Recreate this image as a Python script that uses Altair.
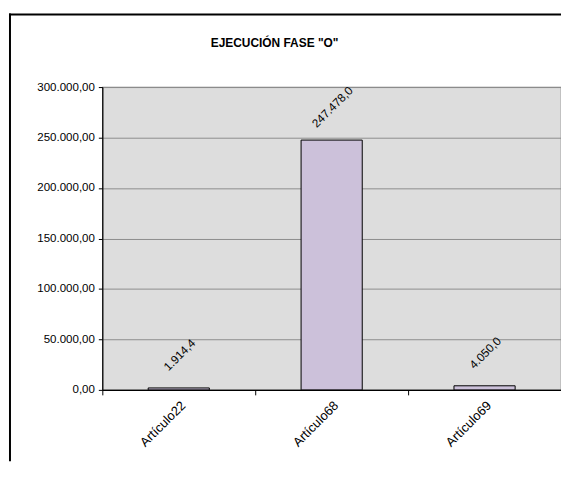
import altair as alt
import pandas as pd

categories = ["Artículo22", "Artículo68", "Artículo69"]
values = [1914.4, 247478.0, 4050.0]
y_ticks = [0, 50000, 100000, 150000, 200000, 250000, 300000]
title_text = 'EJECUCIÓN FASE "O"'

df = pd.DataFrame({"cat": categories, "val": values})

FONT = "Liberation Sans"
W, H = 462, 305
STEP = W / 3
PB = 72


def es_fmt(expr, spec):
    # swap separators: "247,478.0" -> "247.478,0"
    s = f"format({expr}, '{spec}')"
    return f"replace(join(split(join(split({s}, '.'), '#'), ','), '.'), '#', ',')"


x_scale = alt.Scale(paddingInner=0.6, paddingOuter=0.3)

x_enc = alt.X(
    "cat:N",
    sort=categories,
    title=None,
    scale=x_scale,
    axis=alt.Axis(
        labelAngle=315,
        labelFontSize=13,
        labelFont=FONT,
        labelColor="black",
        labelPadding=4,
        domainColor="black",
        domainWidth=1.2,
        tickColor="black",
        tickSize=5,
        tickOffset=-STEP / 2,
        labelOffset=STEP / 2,
        grid=False,
    ),
)
y_enc = alt.Y(
    "val:Q",
    title=None,
    scale=alt.Scale(domain=[0, 300000], nice=False),
    axis=alt.Axis(
        values=y_ticks,
        labelExpr=es_fmt("datum.value", ",.2f"),
        labelFontSize=11.6,
        labelFont=FONT,
        labelColor="black",
        labelPadding=4,
        domainColor="black",
        domainWidth=1.2,
        tickColor="black",
        tickSize=4,
        grid=True,
        gridColor="#8c8c8c",
        gridWidth=1,
    ),
)

bars = alt.Chart(df).mark_bar(
    fill="#CCC1DA", stroke="black", strokeWidth=1
).encode(x=x_enc, y=y_enc)

labels = alt.Chart(df).transform_calculate(
    lab=es_fmt("datum.val", ",.1f")
).mark_text(
    angle=315, align="center", baseline="middle", dx=24, dy=-23,
    font=FONT, fontSize=11.8, color="black"
).encode(
    x=alt.X("cat:N", sort=categories),
    y=alt.Y("val:Q"),
    text="lab:N",
)

frame_df = pd.DataFrame({"t": [title_text]})
vline = alt.Chart(frame_df).mark_rule(color="black", strokeWidth=2).encode(
    x=alt.value(-93), y=alt.value(-74), y2=alt.value(H + PB)
)
hline = alt.Chart(frame_df).mark_rule(color="black", strokeWidth=2).encode(
    x=alt.value(-94), x2=alt.value(W), y=alt.value(-73)
)
title = alt.Chart(frame_df).mark_text(
    font=FONT, fontSize=12, fontWeight="bold", color="black",
    align="center", baseline="middle"
).encode(
    x=alt.value(W / 2 - 57.5), y=alt.value(-44), text="t:N"
)

chart = alt.layer(bars, labels, vline, hline, title).properties(
    width=W,
    height=H,
    autosize=alt.AutoSizeParams(type="none"),
    padding={"left": 95, "top": 78, "right": 0, "bottom": PB},
).configure_view(
    fill="#DDDDDD", stroke="#808080", strokeWidth=1.2
)

chart.save("out.html", embed_options={"renderer": "svg", "actions": False})
